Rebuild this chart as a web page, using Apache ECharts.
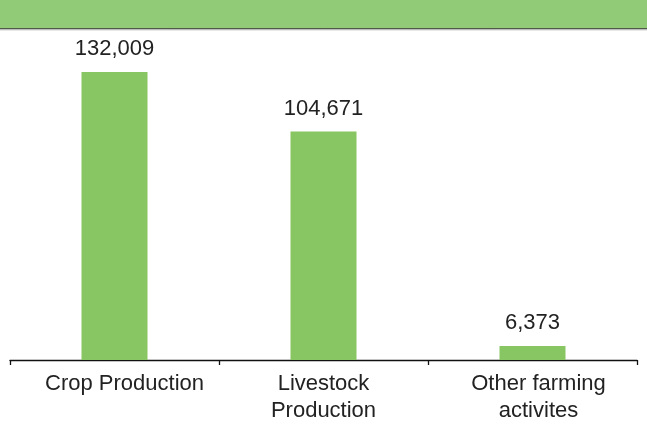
<!DOCTYPE html>
<html>
<head>
<meta charset="utf-8">
<script src="https://cdn.jsdelivr.net/npm/echarts@6/dist/echarts.min.js"></script>
<style>
html,body{margin:0;padding:0;background:#fff;}
#main{width:647px;height:434px;}
</style>
</head>
<body>
<div id="main"></div>
<script>
var categories = ['Crop Production', 'Livestock\nProduction', 'Other farming\nactivites'];
var values = [132009, 104671, 6373];
var labelShift = [20, 0, 12];

var FONT = "'Liberation Sans', Arial, Helvetica, sans-serif";
var chart = echarts.init(document.getElementById('main'), null, {renderer: 'canvas'});
chart.setOption({
  animation: false,
  backgroundColor: '#ffffff',
  textStyle: {fontFamily: FONT},
  graphic: [
    {type: 'rect', left: 0, top: 0, shape: {x: 0, y: 0, width: 647, height: 28}, style: {fill: '#92CB78'}, z: 10},
    {type: 'line', shape: {x1: 0, y1: 28.6, x2: 647, y2: 28.6}, style: {stroke: '#4f5a48', lineWidth: 1.4}, z: 11},
    {type: 'line', shape: {x1: 0, y1: 29.8, x2: 647, y2: 29.8}, style: {stroke: '#b0b0b0', lineWidth: 1}, z: 11}
  ],
  grid: {left: 10, right: 10, top: 29, bottom: 74, containLabel: false},
  xAxis: {
    type: 'category',
    data: categories.map(function (c, i) {
      return {value: c, textStyle: {padding: [0, 0, 0, labelShift[i]]}};
    }),
    axisLine: {show: true, lineStyle: {color: '#111', width: 1.3}},
    axisTick: {show: true, length: 5, lineStyle: {color: '#111', width: 1.3}},
    axisLabel: {fontSize: 22, lineHeight: 27, color: '#222', margin: 10, fontFamily: FONT, interval: 0}
  },
  yAxis: {
    type: 'value', min: 0, max: 151700, show: false,
    splitLine: {show: false}
  },
  series: [{
    type: 'bar',
    data: values,
    barWidth: 66,
    itemStyle: {color: '#88C663'},
    label: {
      show: true, position: 'top', distance: 12,
      fontSize: 22, color: '#222', fontFamily: FONT,
      formatter: function (p) { return p.value.toLocaleString('en-US'); }
    }
  }]
});
</script>
</body>
</html>
